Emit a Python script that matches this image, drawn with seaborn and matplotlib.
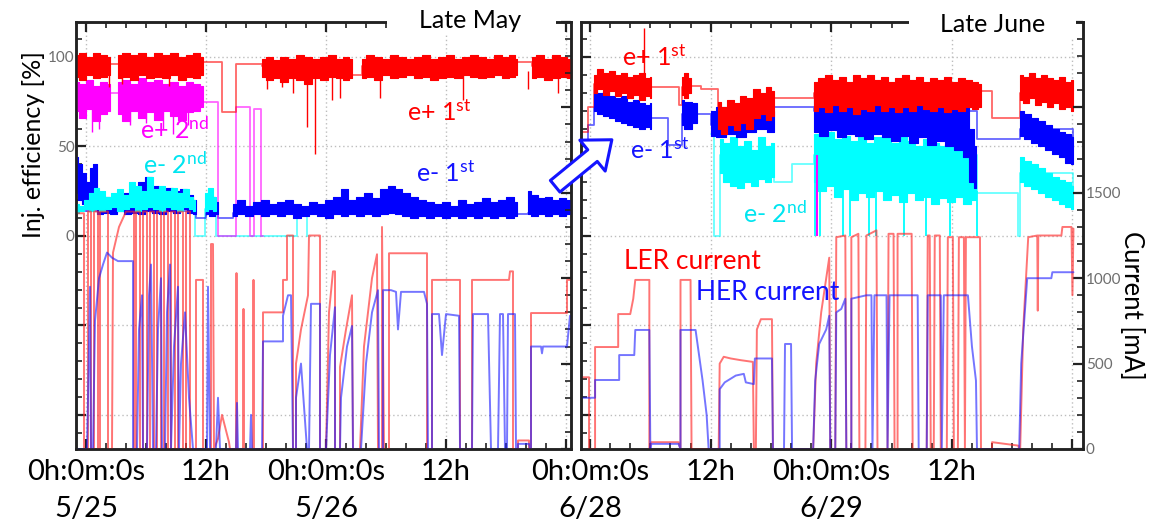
import numpy as np
import pandas as pd
import matplotlib.pyplot as plt
import seaborn as sns
from matplotlib.ticker import MultipleLocator, FixedLocator, FuncFormatter
from matplotlib.patches import Rectangle, FancyArrowPatch

nan = np.nan

# time axis in hours from 0h of the first day of each period
day_ticks = [0, 12, 24, 36, 48]
left_xlabels = ['0h:0m:0s\n5/25', '12h', '0h:0m:0s\n5/26', '12h', '']
right_xlabels = ['0h:0m:0s\n6/28', '12h', '0h:0m:0s\n6/29', '12h', '']

# ---------------- Late May: injection efficiency [%] ----------------
# noisy bands: (hour, low, high), nan = gap
may_eplus1_band = [
    (-1.0, 89, 101), (-0.4, 87, 102), (0.3, 90, 100), (1.0, 88, 102), (1.7, 89, 101), (2.4, 90, 100),
    (2.8, nan, nan),
    (3.2, 88, 101), (4.0, 89, 102), (4.8, 87, 101), (5.6, 90, 102), (6.4, 88, 100), (7.2, 89, 102),
    (8.0, 88, 101), (8.8, 90, 102), (9.6, 87, 100), (10.4, 89, 101), (11.0, 88, 102), (11.7, 90, 100),
    (14.0, nan, nan),
    (17.6, 89, 99), (18.3, 87, 100), (19.0, 88, 98), (19.8, 86, 100), (20.6, 88, 99), (21.4, 87, 101),
    (22.2, 85, 100), (23.0, 88, 99), (23.8, 87, 100), (24.6, 89, 101), (25.4, 88, 99), (26.0, 87, 100),
    (26.6, 88, 99),
    (27.1, nan, nan),
    (27.6, 88, 99), (28.4, 89, 101), (29.2, 87, 100), (30.0, 90, 99), (30.8, 88, 101), (31.6, 89, 100),
    (32.4, 90, 99), (33.2, 88, 100), (34.0, 89, 101), (34.8, 87, 99), (35.6, 88, 100), (36.4, 89, 101),
    (37.2, 88, 99), (38.0, 90, 100), (38.8, 89, 101), (39.6, 88, 100), (40.4, 89, 99), (41.2, 90, 101),
    (42.0, 88, 100), (42.6, 89, 101), (43.1, 90, 99),
    (43.8, nan, nan),
    (44.6, 88, 100), (45.4, 89, 101), (46.2, 87, 99), (47.0, 88, 101), (47.8, 89, 100), (48.4, 88, 99),
]
may_eplus1_hold = [(-1.0, 96), (2.4, 96), (3.2, 96), (11.7, 97), (13.6, 69), (15.0, 96), (17.6, 95),
                   (26.6, 90), (27.6, 95), (43.1, 97), (44.6, 95), (48.4, 95)]
may_eplus1_dips = [(2.3, 83), (3.6, 85), (8.3, 84), (18.1, 82), (19.6, 83), (20.7, 80), (22.1, 61),
                   (22.9, 46), (24.6, 76), (25.4, 77), (29.4, 77), (37.7, 76), (44.2, 82), (47.2, 80)]

may_eplus2_band = [
    (-1.0, 70, 86), (-0.4, 66, 85), (0.3, 71, 87), (1.0, 64, 84), (1.7, 68, 86), (2.4, 70, 85),
    (2.8, nan, nan),
    (3.2, 68, 86), (4.0, 64, 87), (4.8, 70, 85), (5.6, 66, 88), (6.4, 69, 86), (7.2, 65, 87),
    (8.0, 70, 85), (8.8, 67, 86), (9.6, 65, 84), (10.4, 69, 86), (11.0, 70, 85), (11.7, 72, 84),
]
may_eplus2_hold = [(-1.0, 80), (2.4, 80), (3.2, 80), (11.7, 75), (13.2, 0), (15.0, 72), (16.4, 0),
                   (16.8, 71), (17.5, 0), (17.7, 0)]
may_eplus2_dips = [(0.6, 58), (1.3, 60), (4.4, 62), (6.0, 63), (7.7, 60), (8.7, 57), (10.2, 62)]

may_eminus1_band = [
    (-1.0, 24, 44), (-0.6, 20, 40), (-0.2, 18, 35), (0.2, 15, 30), (0.5, 14, 38), (0.9, 16, 40),
    (1.3, 12, 24), (2.0, 13, 22), (2.7, 12, 20), (3.4, 14, 22), (4.1, 12, 24), (4.8, 13, 25),
    (5.5, 12, 30), (6.2, 14, 33), (6.9, 13, 28), (7.6, 12, 26), (8.3, 14, 27), (9.0, 13, 25),
    (9.7, 15, 26), (10.4, 13, 23), (11.0, 12, 20),
    (11.5, nan, nan),
    (12.0, 12, 20), (12.6, 11, 22), (13.2, 12, 19),
    (14.0, nan, nan),
    (14.7, 11, 18), (15.5, 12, 20), (16.3, 11, 17), (17.1, 12, 19), (17.9, 11, 20), (18.7, 12, 18),
    (19.5, 11, 19), (20.3, 12, 20), (21.1, 10, 18), (21.9, 11, 17), (22.7, 12, 19), (23.5, 11, 18),
    (24.3, 10, 20), (25.1, 12, 22), (25.8, 11, 26), (26.6, 12, 20), (27.4, 11, 22), (28.2, 12, 24),
    (29.0, 11, 21), (29.8, 12, 26), (30.5, 13, 28), (31.2, 12, 26), (32.0, 11, 24), (32.8, 10, 22),
    (33.6, 11, 20), (34.4, 10, 19), (35.2, 11, 18), (36.0, 10, 19), (36.8, 11, 17), (37.6, 10, 20),
    (38.4, 11, 18), (39.2, 10, 19), (40.0, 11, 21), (40.8, 10, 19), (41.6, 11, 20), (42.4, 10, 22),
    (43.1, 11, 19),
    (43.7, nan, nan),
    (44.2, 12, 25), (44.8, 11, 23), (45.5, 12, 21), (46.2, 11, 22), (46.9, 12, 20), (47.6, 11, 21),
    (48.4, 12, 20),
]
may_eminus1_hold = [(-1.0, 14), (11.0, 10), (12.0, 13), (13.2, 10), (14.7, 13), (43.1, 12),
                    (44.2, 13), (48.4, 13)]

may_eminus2_band = [
    (-1.0, 13, 18), (-0.5, 14, 17), (0.0, 15, 20), (0.5, 14, 24), (1.0, 15, 27), (1.6, 14, 25),
    (2.2, 15, 22), (2.8, 16, 24), (3.4, 14, 26), (4.0, 15, 23), (4.6, 16, 30), (5.2, 14, 28),
    (5.8, 15, 25), (6.4, 16, 33), (7.0, 15, 26), (7.6, 14, 28), (8.2, 16, 25), (8.8, 15, 27),
    (9.4, 14, 24), (10.0, 16, 26), (10.5, 15, 22), (10.9, 14, 20),
    (11.4, nan, nan),
    (11.9, 14, 24), (12.4, 15, 27), (13.0, 14, 22),
]
may_eminus2_hold = [(-1.0, 15), (10.9, 0), (11.9, 15), (13.0, 0), (21.1, 14), (22.1, 0), (22.2, 0)]

# ---------------- Late May: ring currents [mA] ----------------
may_ler = [
    (-1.0, 1380), (-0.2, 1380), (-0.2, 0), (0.2, 0), (0.2, 1390), (0.5, 1390), (0.5, 0),
    (0.8, 0), (0.8, 1390), (1.2, 1390), (1.2, 0), (1.4, 0), (1.4, 1390), (2.2, 1390),
    (2.2, 0), (2.6, 0), (2.7, 1150), (3.3, 1300), (4.0, 1390), (4.8, 1390), (4.8, 0),
    (5.0, 0), (5.0, 1390), (5.4, 1390), (5.4, 0), (5.7, 0), (5.7, 1390), (6.1, 1390),
    (6.1, 0), (6.4, 0), (6.4, 1390), (6.8, 1390), (6.8, 0), (7.1, 0), (7.1, 1390),
    (7.5, 1390), (7.5, 0), (7.8, 0), (7.8, 1390), (8.2, 1390), (8.2, 0), (8.5, 0),
    (8.5, 1390), (8.9, 1390), (8.9, 0), (9.2, 0), (9.2, 1390), (9.7, 1390), (9.7, 0),
    (10.0, 0), (10.0, 1390), (10.4, 1390), (10.4, 0), (11.0, 0), (11.0, 990), (11.7, 990),
    (11.7, 0), (12.5, 0), (12.5, 1200), (12.7, 1200), (12.8, 0), (13.2, 60), (13.6, 200),
    (14.3, 40), (14.4, 0), (15.0, 0), (15.05, 1030), (15.1, 0), (15.7, 0), (15.75, 820),
    (15.8, 0), (16.7, 0), (16.75, 990), (16.8, 0), (17.7, 0), (17.7, 800), (19.7, 800),
    (19.7, 990), (20.1, 990), (20.1, 1250), (20.7, 1250), (20.7, 0), (21.0, 0), (21.0, 500),
    (21.5, 700), (22.2, 900), (22.3, 1250), (23.4, 1250), (23.4, 0), (24.0, 0), (24.3, 800),
    (24.7, 1040), (24.9, 1040), (24.9, 0), (25.4, 0), (25.4, 480), (26.0, 700), (26.6, 900),
    (26.7, 0), (27.4, 0), (27.8, 600), (28.6, 1000), (29.1, 1140), (29.2, 0), (29.6, 0),
    (29.6, 1300), (29.8, 0), (30.3, 0), (30.3, 1146), (34.1, 1146), (34.1, 0), (34.6, 0),
    (34.6, 990), (37.4, 990), (37.4, 0), (38.6, 0), (38.6, 990), (42.3, 990), (42.4, 1040),
    (42.7, 1040), (42.7, 0), (43.2, 0), (43.2, 50), (44.3, 50), (44.3, 0), (44.5, 0),
    (44.5, 796), (48.1, 796), (48.1, 990), (48.4, 990),
]
may_her = [
    (-1.0, 0), (0.1, 0), (0.25, 450), (0.4, 950), (0.5, 0), (0.7, 0), (0.9, 750), (1.3, 1000),
    (1.7, 1080), (2.1, 1150), (2.6, 1120), (3.2, 1100), (4.7, 1100), (4.7, 0), (5.1, 0),
    (5.3, 700), (5.6, 900), (5.7, 0), (6.1, 0), (6.3, 900), (6.5, 1080), (6.7, 0), (7.0, 0),
    (7.2, 700), (7.5, 1000), (7.6, 0), (7.9, 0), (8.1, 800), (8.4, 1080), (8.5, 0), (8.8, 600),
    (9.2, 950), (9.3, 0), (9.5, 500), (9.9, 800), (10.3, 300), (10.7, 0), (12.1, 0),
    (12.2, 950), (12.4, 0), (13.0, 0), (13.2, 300), (13.4, 0), (15.0, 0), (15.1, 270),
    (15.2, 0), (16.4, 0), (16.5, 200), (16.6, 0), (17.6, 0), (17.7, 630), (19.7, 630),
    (19.7, 780), (20.2, 900), (20.5, 900), (20.7, 0), (21.0, 0), (21.0, 300), (21.5, 500),
    (22.1, 0), (22.3, 0), (22.5, 850), (23.4, 850), (23.4, 0), (24.0, 0), (24.4, 550),
    (24.9, 830), (24.9, 0), (25.4, 0), (25.5, 300), (26.1, 600), (26.6, 720), (26.7, 0),
    (27.5, 0), (28.0, 500), (28.6, 800), (29.2, 930), (29.3, 0), (29.7, 0), (29.7, 930),
    (30.5, 930), (31.0, 920), (31.2, 700), (31.5, 920), (33.8, 920), (34.1, 850), (34.2, 0),
    (34.6, 0), (34.6, 790), (35.3, 790), (35.6, 550), (36.0, 790), (37.3, 780), (37.4, 0),
    (38.6, 0), (38.7, 790), (40.2, 790), (40.5, 0), (41.2, 0), (41.4, 790), (41.7, 790),
    (41.9, 0), (42.1, 0), (42.2, 790), (42.9, 790), (43.0, 0), (43.2, 0), (43.2, 30),
    (44.3, 30), (44.4, 0), (44.5, 0), (44.5, 600), (45.5, 600), (45.6, 560), (45.7, 600),
    (48.1, 600), (48.4, 780),
]

# ---------------- Late June: injection efficiency [%] ----------------
jun_eplus1_band = [
    (0.4, 80, 90), (1.0, 82, 93), (1.6, 79, 91), (2.2, 81, 92), (2.8, 78, 90), (3.4, 80, 91),
    (4.0, 77, 89), (4.6, 79, 90), (5.2, 76, 91), (5.8, 78, 88), (6.1, 77, 89),
    (7.5, nan, nan),
    (9.1, 79, 89), (9.5, 77, 91), (10.0, 80, 88),
    (11.5, nan, nan),
    (12.7, 60, 75), (13.3, 57, 72), (14.0, 62, 76), (14.6, 59, 74), (15.2, 63, 78), (15.8, 60, 77),
    (16.6, 66, 82), (17.2, 68, 80), (17.8, 65, 83), (18.3, 67, 81),
    (20.0, nan, nan),
    (22.3, 70, 86), (23.0, 72, 88), (23.7, 69, 90), (24.4, 73, 87), (25.1, 70, 89), (25.8, 72, 86),
    (26.5, 68, 90), (27.2, 71, 88), (27.9, 70, 90), (28.6, 73, 87), (29.3, 70, 89), (30.0, 72, 86),
    (30.7, 69, 88), (31.4, 72, 90), (32.1, 70, 87), (32.8, 73, 89), (33.5, 71, 86), (34.2, 70, 88),
    (34.9, 72, 87), (35.6, 69, 89), (36.3, 71, 86), (37.0, 70, 88), (37.7, 72, 87), (38.4, 71, 86),
    (38.9, 72, 85),
    (40.5, nan, nan),
    (42.8, 76, 90), (43.4, 74, 89), (44.0, 77, 91), (44.6, 73, 88), (45.2, 75, 90), (45.8, 72, 88),
    (46.4, 74, 87), (47.0, 71, 89), (47.6, 72, 86), (48.1, 70, 87),
]
jun_eplus1_hold = [(-0.9, 58), (-0.2, 72), (0.4, 85), (6.1, 83), (8.9, 73), (9.1, 83), (10.0, 84),
                   (11.0, 82), (12.7, 70), (18.3, 77), (22.3, 80), (38.9, 81), (40.0, 66),
                   (42.8, 80), (48.1, 80)]
jun_eplus1_spikes = [(5.4, 116)]

jun_eminus1_band = [
    (0.4, 70, 82), (1.0, 68, 80), (1.6, 67, 81), (2.2, 66, 78), (2.8, 64, 77), (3.4, 63, 78),
    (4.0, 62, 75), (4.6, 61, 76), (5.2, 60, 74), (5.8, 61, 73), (6.1, 60, 74),
    (7.5, nan, nan),
    (9.1, 62, 76), (9.6, 60, 75), (10.6, 63, 74),
    (11.4, nan, nan),
    (12.0, 56, 70), (13.0, 55, 72), (14.0, 57, 70), (15.0, 55, 71), (16.0, 58, 72), (17.0, 60, 74),
    (18.3, 58, 70),
    (20.0, nan, nan),
    (22.3, 58, 80), (23.2, 56, 82), (24.1, 59, 79), (25.0, 55, 81), (25.9, 57, 78), (26.8, 56, 80),
    (27.7, 54, 79), (28.6, 57, 77), (29.5, 55, 80), (30.4, 53, 78), (31.3, 56, 76), (32.2, 52, 79),
    (33.1, 55, 76), (34.0, 51, 77), (34.9, 53, 75), (35.8, 50, 76), (36.7, 48, 74), (37.5, 44, 72),
    (38.0, 30, 60), (38.4, 27, 50),
    (40.0, nan, nan),
    (42.8, 56, 70), (43.5, 54, 68), (44.2, 52, 66), (44.9, 50, 64), (45.6, 48, 62), (46.3, 46, 60),
    (47.0, 44, 58), (47.6, 41, 57), (48.1, 40, 55),
]
jun_eminus1_hold = [(-0.9, 50), (-0.2, 62), (0.4, 72), (6.1, 66), (7.8, 51), (9.1, 68), (10.6, 68),
                    (12.0, 62), (18.3, 72), (22.3, 70), (38.5, 54), (42.8, 60), (48.1, 50)]

jun_eminus2_band = [
    (12.9, 35, 54), (13.6, 30, 52), (14.3, 28, 55), (15.0, 27, 50), (15.7, 30, 53), (16.4, 28, 48),
    (17.1, 32, 55), (17.8, 30, 50), (18.3, 33, 52),
    (20.0, nan, nan),
    (22.3, 30, 57), (23.1, 25, 55), (23.9, 28, 58), (24.7, 22, 54), (25.5, 26, 56), (26.3, 20, 53),
    (27.1, 24, 57), (27.9, 22, 52), (28.7, 25, 55), (29.5, 20, 56), (30.3, 23, 52), (31.1, 19, 55),
    (31.9, 24, 53), (32.7, 20, 50), (33.5, 22, 54), (34.3, 18, 52), (35.1, 21, 50), (35.9, 19, 53),
    (36.7, 22, 48), (37.5, 18, 45), (38.4, 20, 42),
    (40.0, nan, nan),
    (42.8, 30, 44), (43.5, 28, 42), (44.2, 26, 40), (44.9, 24, 38), (45.6, 22, 35), (46.3, 20, 33),
    (47.0, 18, 31), (47.6, 16, 30), (48.1, 15, 28),
]
jun_eminus2_hold = [(12.0, 57), (12.3, 0), (12.9, 45), (18.3, 30), (20.1, 40), (22.3, 45),
                    (38.5, 24), (42.6, 0), (42.8, 35), (48.1, 28)]
jun_eminus2_drops = [(22.4, 35), (22.9, 35), (25.2, 30), (25.9, 30), (27.8, 30), (28.5, 30),
                     (31.2, 30), (33.4, 30), (35.8, 30), (38.5, 25)]
jun_eplus2_spike = [(22.6, 45)]

# ---------------- Late June: ring currents [mA] ----------------
jun_ler = [
    (-0.9, 420), (-0.1, 420), (-0.1, 0), (0.5, 0), (0.5, 597), (2.8, 597), (2.8, 790),
    (4.0, 790), (4.3, 880), (4.5, 990), (5.9, 990), (5.9, 0), (6.1, 40), (8.8, 40), (9.0, 0),
    (9.0, 990), (10.0, 990), (10.1, 0), (12.8, 0), (12.9, 500), (13.3, 540), (14.0, 530),
    (15.0, 520), (16.2, 510), (16.3, 0), (16.5, 0), (16.6, 700), (17.0, 760), (18.1, 760),
    (18.2, 0), (22.2, 0), (22.5, 500), (23.0, 800), (23.5, 1000), (23.8, 1120), (23.9, 0),
    (24.4, 0), (24.5, 1240), (25.4, 1250), (25.5, 0), (26.0, 0), (26.0, 1240), (26.7, 1260),
    (26.8, 0), (27.4, 0), (27.5, 1250), (28.5, 1280), (28.6, 0), (29.6, 0), (29.7, 1260),
    (30.2, 1260), (30.3, 0), (30.6, 0), (30.6, 1260), (32.0, 1260), (32.1, 0), (33.5, 0),
    (33.6, 1250), (33.8, 1250), (33.9, 0), (34.2, 0), (34.3, 1250), (34.8, 1250), (34.9, 0),
    (35.5, 0), (35.6, 1240), (36.1, 1240), (36.2, 0), (36.6, 0), (36.7, 1240), (37.2, 1240),
    (37.3, 0), (37.4, 1240), (38.8, 1240), (38.9, 0), (40.0, 0), (40.0, 40), (42.6, 20),
    (42.7, 0), (42.8, 0), (43.1, 700), (43.6, 1240), (44.5, 1250), (44.55, 810), (44.6, 1250),
    (46.9, 1250), (47.0, 1300), (47.9, 1300), (48.0, 900), (48.1, 1290),
]
jun_her = [
    (-0.9, 300), (0.5, 300), (0.5, 404), (2.9, 404), (2.9, 550), (4.4, 550), (4.5, 697),
    (5.9, 697), (6.0, 0), (6.1, 30), (8.8, 30), (9.0, 0), (9.0, 697), (10.5, 697), (11.2, 400),
    (11.6, 200), (11.8, 0), (12.9, 0), (12.9, 350), (13.4, 390), (14.5, 430), (15.3, 440),
    (15.5, 390), (16.3, 380), (16.4, 530), (18.1, 530), (18.2, 0), (19.3, 0), (19.4, 615),
    (20.0, 615), (20.1, 0), (22.2, 0), (22.4, 400), (22.8, 615), (23.5, 700), (23.8, 780),
    (23.9, 0), (24.4, 0), (24.5, 800), (25.0, 820), (25.4, 880), (25.5, 0), (26.0, 0),
    (26.0, 880), (27.5, 900), (28.0, 900), (28.1, 0), (28.3, 900), (29.5, 900), (29.6, 0),
    (29.8, 900), (32.6, 900), (32.7, 0), (33.5, 0), (33.6, 900), (34.9, 900), (35.0, 0),
    (35.2, 900), (37.6, 900), (38.0, 600), (38.4, 400), (38.5, 0), (42.7, 0), (42.9, 500),
    (43.5, 1000), (45.9, 1000), (46.0, 1035), (48.1, 1035),
]

RED, BLUE, MAGENTA, CYAN = '#ff0000', '#0000ff', '#ff00ff', '#00ffff'


def band(ax, rows, color, z):
    t, lo, hi = np.array(rows, dtype=float).T
    ax.fill_between(t, lo, hi, step='mid', color=color, lw=0.8, zorder=z)


def trace(ax, pairs, color, lw=1.3, alpha=0.6, steps=False, z=2):
    df = pd.DataFrame(pairs, columns=['t', 'v'])
    sns.lineplot(data=df, x='t', y='v', ax=ax, color=color, lw=lw, alpha=alpha,
                 estimator=None, sort=False, zorder=z,
                 drawstyle='steps-post' if steps else 'default')
    ax.set_xlabel('')
    ax.set_ylabel('')


def whiskers(ax, pairs, base, color, z, lw=1.0):
    t, v = np.array(pairs, dtype=float).T
    ax.vlines(t, base, v, color=color, lw=lw, zorder=z)


sns.set_style('ticks')
plt.rcParams['font.family'] = ['Lato', 'DejaVu Sans']
plt.rcParams['mathtext.fontset'] = 'custom'
plt.rcParams['mathtext.rm'] = 'Lato'
plt.rcParams['mathtext.it'] = 'Lato:italic'
plt.rcParams['mathtext.bf'] = 'Lato:bold'

fig = plt.figure(figsize=(11.5, 5.27), dpi=100)
axL = fig.add_axes([76 / 1150, 78 / 527, 495 / 1150, 427 / 527])
axR = fig.add_axes([581 / 1150, 78 / 527, 502 / 1150, 427 / 527])

# efficiency traces
trace(axL, may_eminus2_hold, CYAN, steps=True)
trace(axL, may_eminus1_hold, BLUE, steps=True)
trace(axL, may_eplus2_hold, MAGENTA, steps=True)
trace(axL, may_eplus1_hold, RED, steps=True)
band(axL, may_eminus1_band, BLUE, 3)
band(axL, may_eminus2_band, CYAN, 4)
band(axL, may_eplus2_band, MAGENTA, 5)
band(axL, may_eplus1_band, RED, 6)
whiskers(axL, may_eplus2_dips, 72, MAGENTA, 5)
whiskers(axL, may_eplus1_dips, 92, RED, 6)

trace(axR, jun_eminus2_hold, CYAN, steps=True)
trace(axR, jun_eminus1_hold, BLUE, steps=True)
trace(axR, jun_eplus1_hold, RED, steps=True)
band(axR, jun_eminus2_band, CYAN, 3)
band(axR, jun_eminus1_band, BLUE, 4)
band(axR, jun_eplus1_band, RED, 6)
whiskers(axR, jun_eminus2_drops, 0, CYAN, 3, lw=1.3)
whiskers(axR, jun_eplus2_spike, 0, MAGENTA, 3, lw=1.5)
whiskers(axR, jun_eplus1_spikes, 90, RED, 6)

for ax, lim, labels in [(axL, (-1.0, 48.5), left_xlabels), (axR, (-0.9, 49.05), right_xlabels)]:
    ax.set_xlim(*lim)
    ax.set_ylim(-119, 119.5)
    ax.xaxis.set_major_locator(FixedLocator(day_ticks))
    ax.xaxis.set_minor_locator(MultipleLocator(2))
    ax.set_xticklabels(labels)
    ax.yaxis.set_major_locator(MultipleLocator(50))
    ax.yaxis.set_minor_locator(MultipleLocator(10))
    ax.tick_params(which='both', direction='in', top=True, bottom=True, left=True, right=False,
                   color='#222222')
    ax.tick_params(which='major', length=7, width=1.6)
    ax.tick_params(which='minor', length=4, width=1.2)
    ax.tick_params(axis='x', labelsize=21, pad=7, labelcolor='black')
    ax.tick_params(axis='y', labelsize=11, pad=1, labelcolor='#6e6e6e')
    for lab in ax.get_xticklabels():
        lab.set_linespacing(1.55)
    ax.grid(True, which='major', ls=(0, (1, 2)), color='#bdbdbd', lw=1.0)
    ax.set_axisbelow(True)
    for sp in ax.spines.values():
        sp.set_color('#222222')
        sp.set_linewidth(1.8)

axL.yaxis.set_major_formatter(FuncFormatter(lambda v, p: f'{v:.0f}' if v >= 0 else ''))
axR.tick_params(axis='y', labelleft=False)

# current axes
for ax, ler, her, show in [(axL, may_ler, may_her, False), (axR, jun_ler, jun_her, True)]:
    tw = ax.twinx()
    trace(tw, ler, '#ff2a2a', lw=1.4, alpha=0.65)
    trace(tw, her, '#1a1aff', lw=1.4, alpha=0.6)
    tw.set_ylim(0, 2500)
    tw.yaxis.set_major_locator(MultipleLocator(500))
    tw.yaxis.set_minor_locator(MultipleLocator(100))
    tw.tick_params(which='both', direction='in', right=True, color='#222222')
    tw.tick_params(which='major', length=7, width=1.6)
    tw.tick_params(which='minor', length=4, width=1.2)
    tw.tick_params(axis='y', labelsize=11, pad=2, labelcolor='#6e6e6e', labelright=show)
    tw.yaxis.set_major_formatter(FuncFormatter(lambda v, p: f'{v:.0f}' if v <= 1500 else ''))
    for sp in tw.spines.values():
        sp.set_color('#222222')
        sp.set_linewidth(1.8)

# white boxes for the period titles
for x0, x1, h in [(387, 556, 34), (909, 1076, 38)]:
    fig.add_artist(Rectangle((x0 / 1150, 1 - h / 527), (x1 - x0) / 1150, h / 527,
                             transform=fig.transFigure, fc='white', ec='none', zorder=8))


def ftext(x, y, s, color='black', size=18, **kw):
    fig.text(x / 1150, 1 - y / 527, s, color=color, fontsize=size, ha='center', va='center',
             zorder=9, **kw)


ftext(470, 21, 'Late May', size=18)
ftext(993, 25, 'Late June', size=18)
ftext(34, 145, 'Inj. efficiency [%]', rotation=90, size=18)
ftext(1132, 305, 'Current [mA]', rotation=270, size=18.5)

ftext(439, 112, 'e+ 1$^{\\mathrm{st}}$', RED)
ftext(175, 130, 'e+ 2$^{\\mathrm{nd}}$', MAGENTA)
ftext(175, 165, 'e- 2$^{\\mathrm{nd}}$', '#00e5f0')
ftext(446, 173, 'e- 1$^{\\mathrm{st}}$', '#1414ff')
ftext(654, 57, 'e+ 1$^{\\mathrm{st}}$', RED)
ftext(660, 150, 'e- 1$^{\\mathrm{st}}$', '#1414ff')
ftext(775, 214, 'e- 2$^{\\mathrm{nd}}$', '#00e5f0')
ftext(692, 262, 'LER current', RED, size=19)
ftext(768, 293, 'HER current', '#1414ff', size=19)

fig.add_artist(FancyArrowPatch((553 / 1150, 1 - 188 / 527), (614 / 1150, 1 - 138 / 527),
                               transform=fig.transFigure,
                               arrowstyle='simple,head_width=1.6,head_length=1.0,tail_width=0.6',
                               mutation_scale=18, fc='white', ec='#1414ff', lw=2.2, zorder=10))

fig.savefig('out.png', dpi=100)
